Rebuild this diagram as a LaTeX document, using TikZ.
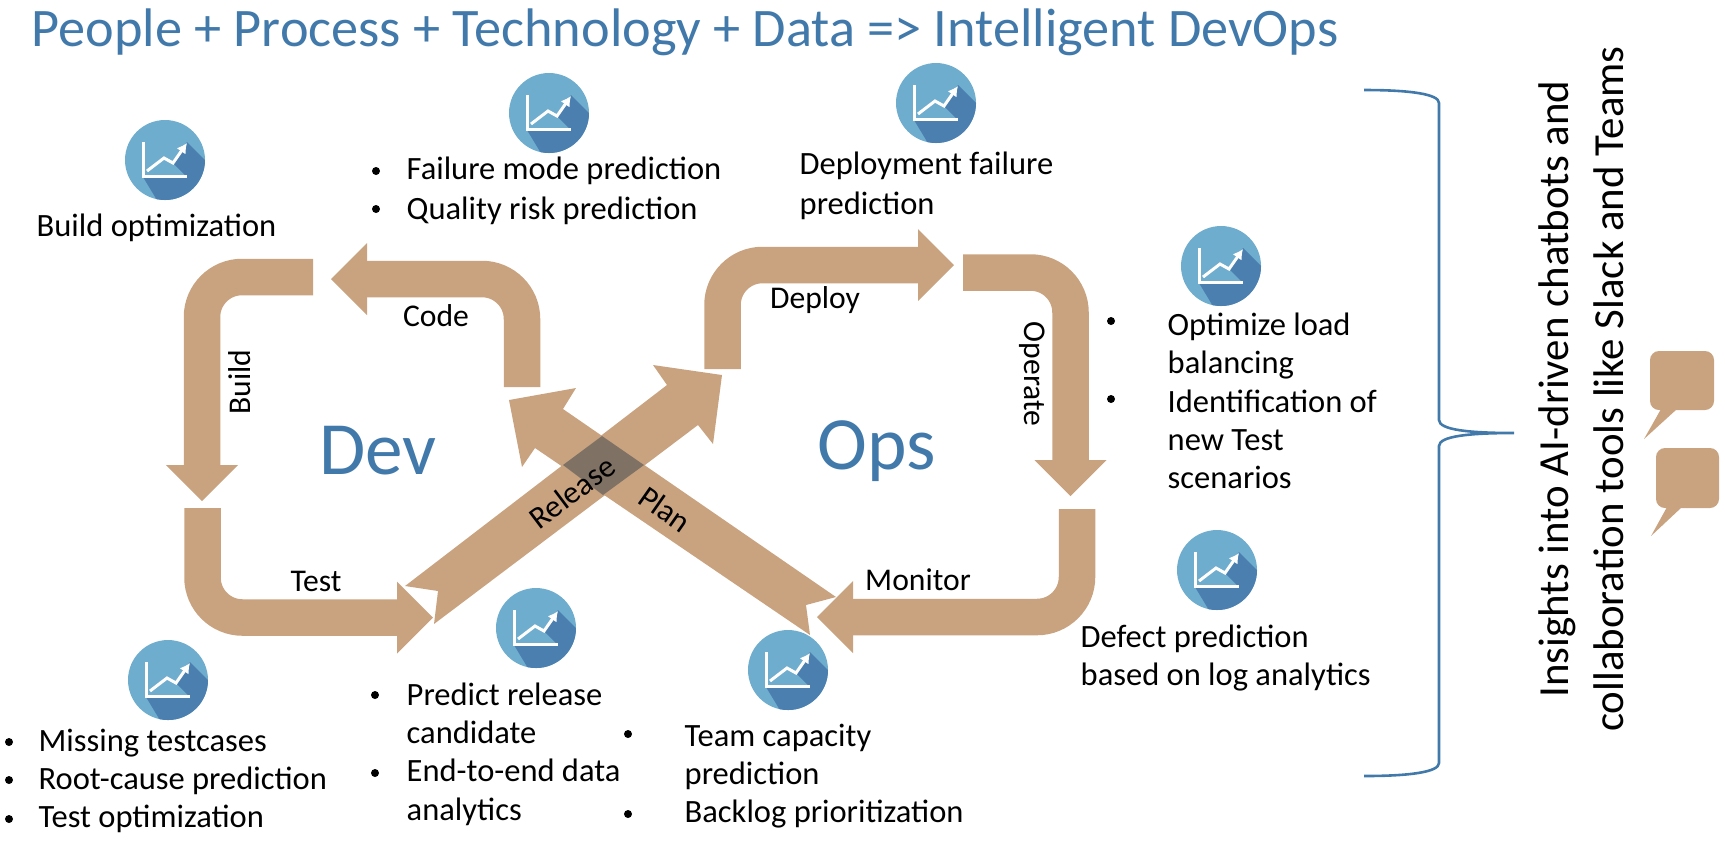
\documentclass[tikz,border=0pt]{standalone}
\usepackage{fontspec}
\setmainfont{Carlito}
\usetikzlibrary{arrows.meta,positioning,calc}
\definecolor{BandTan}{HTML}{C9A380}
\definecolor{CrossDark}{HTML}{7F7264}
\definecolor{OpsBlue}{HTML}{4179AB}
\definecolor{IconBlue}{HTML}{6FADCE}
\definecolor{IconDark}{HTML}{4A7FB0}
\tikzset{
  figtitle/.style={font=\fontsize{15.45}{18}\selectfont\color{OpsBlue}, anchor=west, inner sep=0pt},
  band/.style={draw=BandTan, line width=3.65mm, rounded corners=4mm,
               -{Triangle[length=3.6mm,width=7.2mm,line width=0pt]}},
  bandfill/.style={fill=BandTan},
  iconball/.style={circle, fill=IconBlue, minimum size=8mm, inner sep=0pt},
  bodytext/.style={font=\fontsize{9.25}{10.9}\selectfont, anchor=west, align=left, inner sep=0pt},
  bulletdot/.style={circle, fill=black, minimum size=0.8mm, inner sep=0pt},
  steplabel/.style={font=\fontsize{9}{10}\selectfont, inner sep=0pt},
  bigword/.style={font=\fontsize{21.4}{24}\selectfont\color{OpsBlue}, inner sep=0pt},
  sidetext/.style={font=\fontsize{12.2}{15.6}\selectfont, align=center, rotate=90, inner sep=0pt},
}
\newcommand{\charticon}[2]{%
  \node[iconball] (#1) at (#2) {};
  \begin{scope}[shift={(#2)}]
    \begin{scope}
      \clip (0,0) circle (40);
      \fill[IconDark] (22,-18) -- (60,20) -- (10,70) -- (-22,17) -- (22,17) -- (8,3) -- cycle;
    \end{scope}
    \draw[white, line width=0.3mm] (-22,-18) -- (-22,16) -- (22,16);
    \draw[white, line width=0.3mm, -{Latex[length=1mm,width=1.1mm]}] (-18,11) -- (-1,-2) -- (8,3) -- (22,-17);
  \end{scope}
}
\begin{document}
\begin{tikzpicture}[x=0.1mm,y=-0.1mm]
  \useasboundingbox (0,0) rectangle (1725,841);

  % Title
  \node[figtitle] (title) at (31,32) {People + Process + Technology + Data => Intelligent DevOps};

  % Dev loop
  \coordinate (codeS) at (522,387);
  \coordinate (codeE) at (331,279);
  \coordinate (buildS) at (313,277);
  \coordinate (buildE) at (202,501);
  \coordinate (testS) at (202.5,508);
  \coordinate (testE) at (433,617.5);
  \draw[band] (codeS) |- (codeE);
  \draw[band] (buildS) -| (buildE);
  \draw[band] (testS) |- (testE);

  % Ops loop
  \coordinate (deployS) at (722.5,369);
  \coordinate (deployE) at (954,265);
  \coordinate (operS) at (963,272.5);
  \coordinate (operE) at (1070.5,496);
  \coordinate (monS) at (1077,509);
  \coordinate (monE) at (817,617);
  \draw[band] (deployS) |- (deployE);
  \draw[band] (operS) -| (operE);
  \draw[band] (monS) |- (monE);

  % Crossing arrows
  \fill[bandfill] (836,597) -- (563,409) -- (576,388) -- (509,400) -- (522,467) -- (535,448)
        -- (810,635) -- (806,605) -- cycle;
  \fill[bandfill] (405,586) -- (667,385) -- (653,365) -- (722,375) -- (713,444) -- (698,425)
        -- (434,624) -- (438,591) -- cycle;
  \fill[CrossDark] (602,436) -- (644,465) -- (603,495) -- (563,465) -- cycle;

  % Arrow labels
  \node[steplabel] (code) at (436,316) {Code};
  \node[steplabel, rotate=90] (build) at (240,382) {Build};
  \node[steplabel] (test) at (316,581) {Test};
  \node[steplabel] (deploy) at (815,300) {Deploy};
  \node[steplabel, rotate=-90] (operate) at (1032,374) {Operate};
  \node[steplabel] (monitor) at (918,580) {Monitor};
  \node[steplabel, rotate=37] (release) at (572,492) {Release};
  \node[steplabel, rotate=-35] (plan) at (665,509) {Plan};
  \node[bigword] (dev) at (378,451) {Dev};
  \node[bigword] (ops) at (877,451) {Ops};

  % Icons
  \charticon{icoBuild}{165,160}
  \charticon{icoCode}{549,113}
  \charticon{icoDeploy}{936,103}
  \charticon{icoOperate}{1221,266}
  \charticon{icoMonitor}{1217,570}
  \charticon{icoPlan}{788,670}
  \charticon{icoRelease}{536,628}
  \charticon{icoTest}{168,680}

  % Text under the icons
  \node[bodytext] (txtBuild) at (36,228) {Build optimization};
  \node[bodytext] (txtCode) at (406,191) {Failure mode prediction\\[0.6pt]Quality risk prediction};
  \node[bodytext] (txtDeploy) at (799,186) {Deployment failure\\[0.6pt]prediction};
  \node[bodytext] (txtOper) at (1167,401) {Optimize load\\balancing\\Identification of\\new Test\\scenarios};
  \node[bodytext] (txtMon) at (1080,658) {Defect prediction\\based on log analytics};
  \node[bodytext] (txtPlan) at (684,776) {Team capacity\\prediction\\Backlog prioritization};
  \node[bodytext] (txtRel) at (406,754) {Predict release\\candidate\\End-to-end data\\analytics};
  \node[bodytext] (txtTest) at (38,781) {Missing testcases\\Root-cause prediction\\Test optimization};

  % Bullets
  \foreach \bx/\by [count=\bi] in {376/171,376/209,1111/321,1111/399,628/734,628/814,
                                   375/695,375/773,9/742,9/780,9/819}
    \node[bulletdot] (bul\bi) at (\bx,\by) {};

  % Brace
  \coordinate (brTop) at (1364,90);
  \coordinate (brBot) at (1364,776);
  \coordinate (brTip) at (1514,433);
  \draw[OpsBlue, line width=0.26mm] (brTop) .. controls (1410,90) and (1439,94) .. (1439,103)
        -- (1439,420) .. controls (1439,430) and (1470,433) .. (brTip)
        .. controls (1470,433) and (1439,436) .. (1439,446)
        -- (1439,763) .. controls (1439,772) and (1410,776) .. (brBot);

  % Side text and bubbles
  \node[sidetext] (side) at (1581,389) {Insights into AI-driven chatbots and\\collaboration tools like Slack and Teams};
  \fill[bandfill, rounded corners=0.9mm] (1650,351) -- (1714,351) -- (1714,410) -- (1650,410) -- cycle;
  \fill[bandfill] (1661,409) -- (1677,409) -- (1644,439) -- cycle;
  \fill[bandfill, rounded corners=0.9mm] (1656,448) -- (1719,448) -- (1719,508) -- (1656,508) -- cycle;
  \fill[bandfill] (1667,507) -- (1682,507) -- (1651,536) -- cycle;

\end{tikzpicture}
\end{document}
